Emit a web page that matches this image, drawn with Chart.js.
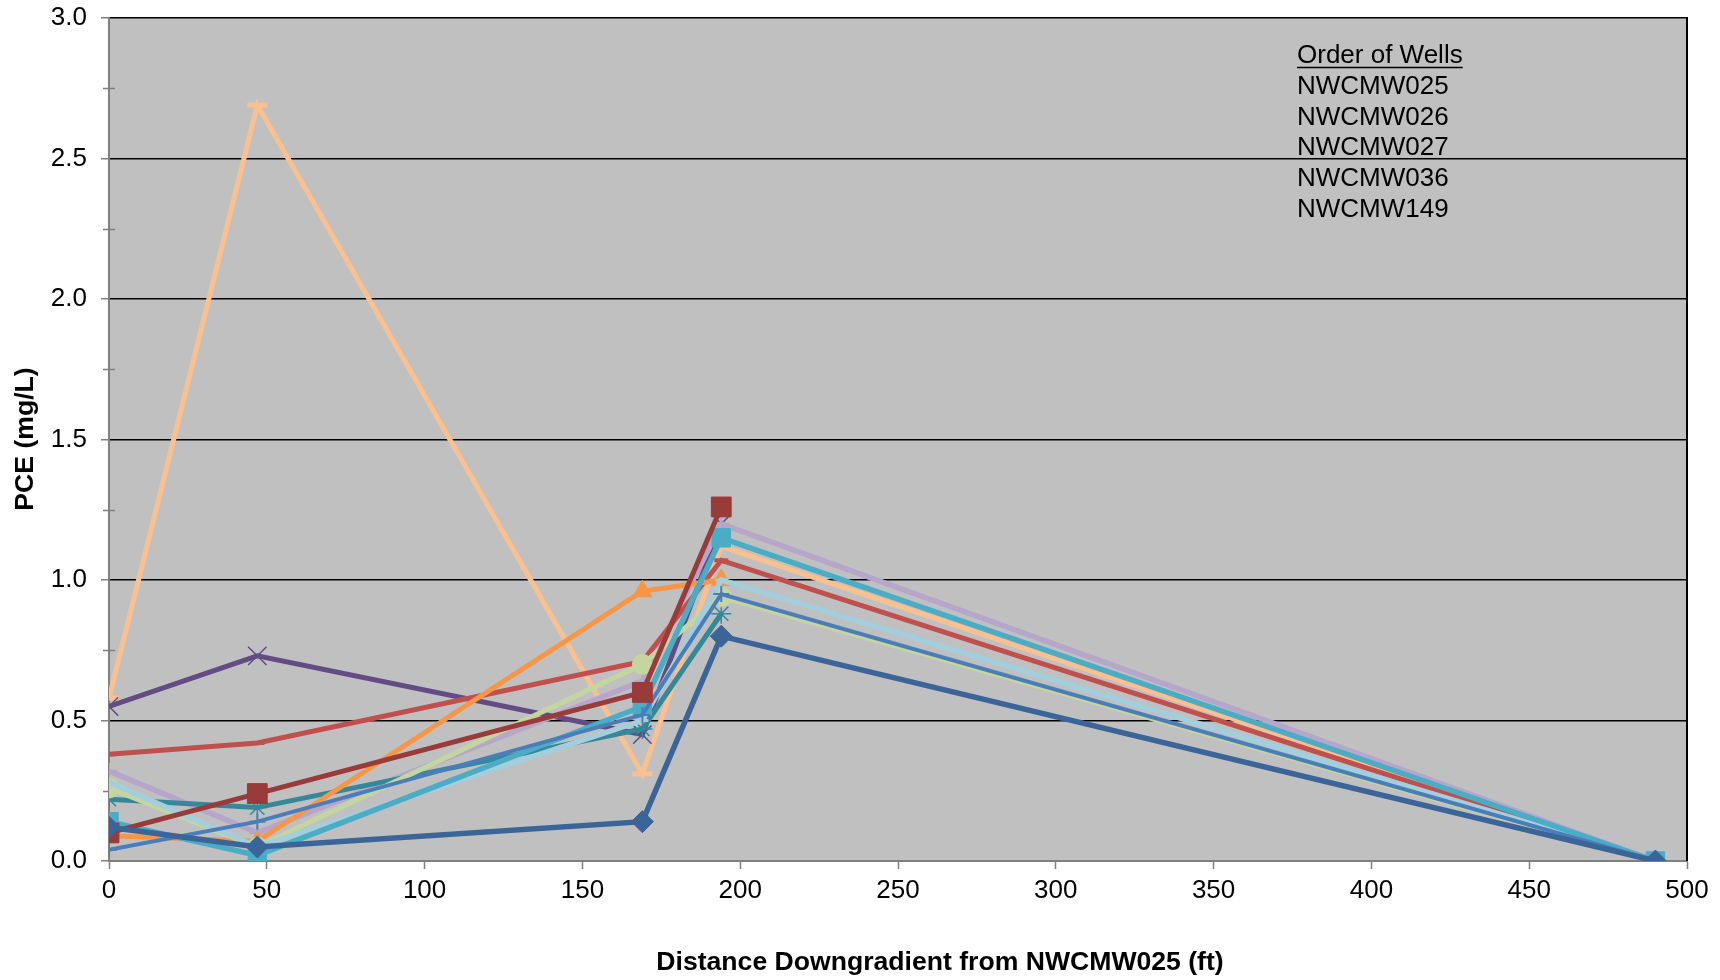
<!DOCTYPE html>
<html><head><meta charset="utf-8">
<script src="https://cdn.jsdelivr.net/npm/chart.js@4.4.1/dist/chart.umd.min.js"></script>
<style>html,body{margin:0;padding:0;background:#fff;overflow:hidden}#wrap{width:1720px;height:980px;position:relative}</style>
</head><body><div id="wrap"><canvas id="c" width="1720" height="980"></canvas></div>
<script>
// Distance downgradient (ft) of each well
const distances = [0, 47, 169, 194, 490];
// PCE (mg/L) per sampling event, in well order
const ev01 = [0.12, 0.05, 0.14, 0.80, 0.00];
const ev02 = [0.10, 0.24, 0.60, 1.26];
const ev03 = [0.04, 0.14, 0.52, 0.95, 0.00];
const ev04 = [0.14, 0.02, 0.55, 1.15, 0.00];
const ev05 = [0.28, 0.05, 0.50, 1.00, 0.00];
const ev06 = [0.26, 0.05, 0.70, 0.94, 0.00];
const ev07 = [0.09, 0.07, 0.96, 1.00];
const ev08 = [0.22, 0.19, 0.47, 0.88];
const ev09 = [0.38, 0.42, 0.71, 1.07, 0.00];
const ev10 = [0.32, 0.10, 0.64, 1.20, 0.00];
const ev11 = [0.55, 0.73, 0.45, 1.20];
const ev12 = [0.58, 2.69, 0.31, 1.12, 0.00];
const yTicks = [0, 0.5, 1.0, 1.5, 2.0, 2.5, 3.0];
const xTicks = [0, 50, 100, 150, 200, 250, 300, 350, 400, 450, 500];
const xTitle = 'Distance Downgradient from NWCMW025 (ft)';
const yTitle = 'PCE (mg/L)';
const noteLines = ['Order of Wells', 'NWCMW025', 'NWCMW026', 'NWCMW027', 'NWCMW036', 'NWCMW149'];

const FONT = '"Liberation Sans", Arial, sans-serif';
function pts(arr){ return arr.map((v,i)=>({x: distances[i], y: v})); }
function ds(label, arr, color, style, r, lw, pbw){
  return {label, data: pts(arr), showLine: true, borderColor: color, backgroundColor: color,
    borderWidth: lw, pointStyle: style, pointRadius: r, pointHoverRadius: r,
    pointBorderWidth: pbw, pointBorderColor: color, pointBackgroundColor: color, tension: 0};
}
const datasets = [
  ds('Event 1', ev01, '#3B6598', 'rectRot', 11, 5.5, 1),
  ds('Event 2', ev02, '#983B39', 'rect', 14, 5, 1),
  ds('Event 3', ev03, '#4A7EBB', 'cross', 8, 4, 2),
  ds('Event 4', ev04, '#4BACC6', 'rect', 13, 5.5, 1),
  ds('Event 5', ev05, '#A3CEDC', 'line', 6, 5.5, 3),
  ds('Event 6', ev06, '#C4D6A0', 'circle', 10, 5, 1),
  ds('Event 7', ev07, '#F79646', 'triangle', 11, 5, 1),
  ds('Event 8', ev08, '#33889A', 'star', 10, 5, 1.5),
  ds('Event 9', ev09, '#C0504D', 'line', 7, 5, 4),
  ds('Event 10', ev10, '#B6A6CA', 'cross', 8, 5.5, 2),
  ds('Event 11', ev11, '#634C84', 'crossRot', 13, 5, 1.5),
  ds('Event 12', ev12, '#FAC08F', 'line', 10, 5, 5)
];

const decor = {
  id: 'decor',
  beforeDraw(chart){
    const {ctx, chartArea: a} = chart;
    ctx.save(); ctx.fillStyle = '#C0C0C0';
    ctx.fillRect(a.left, a.top, a.right - a.left, a.bottom - a.top);
    ctx.restore();
  },
  beforeDatasetsDraw(chart){
    const {ctx, chartArea: a, scales} = chart;
    ctx.save();
    ctx.strokeStyle = '#000'; ctx.lineWidth = 2;
    ctx.beginPath(); ctx.moveTo(a.right, a.top - 1); ctx.lineTo(a.right, a.bottom); ctx.stroke();
    ctx.strokeStyle = '#808080'; ctx.lineWidth = 1.5;
    for (let i = 0; i < yTicks.length - 1; i++) {
      const v = (yTicks[i] + yTicks[i+1]) / 2;
      const y = Math.round(scales.y.getPixelForValue(v)) + 0.5;
      ctx.beginPath(); ctx.moveTo(a.left - 6, y); ctx.lineTo(a.left + 6, y); ctx.stroke();
    }
    ctx.restore();
  },
  afterDraw(chart){
    const {ctx} = chart;
    ctx.save();
    ctx.fillStyle = '#000';
    ctx.font = 'bold 26.6px ' + FONT;
    ctx.textAlign = 'center'; ctx.textBaseline = 'middle';
    ctx.fillText(xTitle, 940, 963);
    ctx.translate(26, 439); ctx.rotate(-Math.PI/2);
    ctx.fillText(yTitle, 0, 0);
    ctx.restore();
    ctx.save();
    ctx.fillStyle = '#000'; ctx.font = '26px ' + FONT;
    ctx.textAlign = 'left'; ctx.textBaseline = 'alphabetic';
    noteLines.forEach((t, i) => ctx.fillText(t, 1297, 63 + i * 30.8));
    const w = ctx.measureText(noteLines[0]).width;
    ctx.strokeStyle = '#000'; ctx.lineWidth = 1.5;
    ctx.beginPath(); ctx.moveTo(1297, 67.5); ctx.lineTo(1297 + w, 67.5); ctx.stroke();
    ctx.restore();
  }
};

new Chart(document.getElementById('c'), {
  type: 'scatter',
  data: { datasets },
  options: {
    responsive: false, animation: false, devicePixelRatio: 1,
    layout: { padding: { left: 0, right: 33, top: 18, bottom: 0 } },
    plugins: { legend: { display: false }, tooltip: { enabled: false } },
    scales: {
      x: {
        type: 'linear', min: 0, max: 500,
        afterFit(s){ s.height = 119; s.paddingLeft = 0; s.paddingRight = 0; },
        afterBuildTicks(s){ s.ticks = xTicks.map(v => ({value: v})); },
        grid: { drawOnChartArea: false, drawTicks: true, tickLength: 8, tickColor: '#808080', tickWidth: 1.5 },
        border: { display: true, color: '#808080', width: 2 },
        ticks: { color: '#000', font: { family: FONT, size: 26 }, padding: 6, maxRotation: 0, autoSkip: false }
      },
      y: {
        type: 'linear', min: 0, max: 3,
        afterFit(s){ s.width = 109; s.paddingTop = 0; s.paddingBottom = 0; },
        afterBuildTicks(s){ s.ticks = yTicks.map(v => ({value: v})); },
        grid: { color: '#000', lineWidth: 1.5, drawTicks: true, tickLength: 8, tickColor: '#808080', tickWidth: 1.5 },
        border: { display: true, color: '#808080', width: 2 },
        ticks: { color: '#000', font: { family: FONT, size: 26 }, padding: 14, callback: v => Number(v).toFixed(1), autoSkip: false }
      }
    }
  },
  plugins: [decor]
});
</script></body></html>
